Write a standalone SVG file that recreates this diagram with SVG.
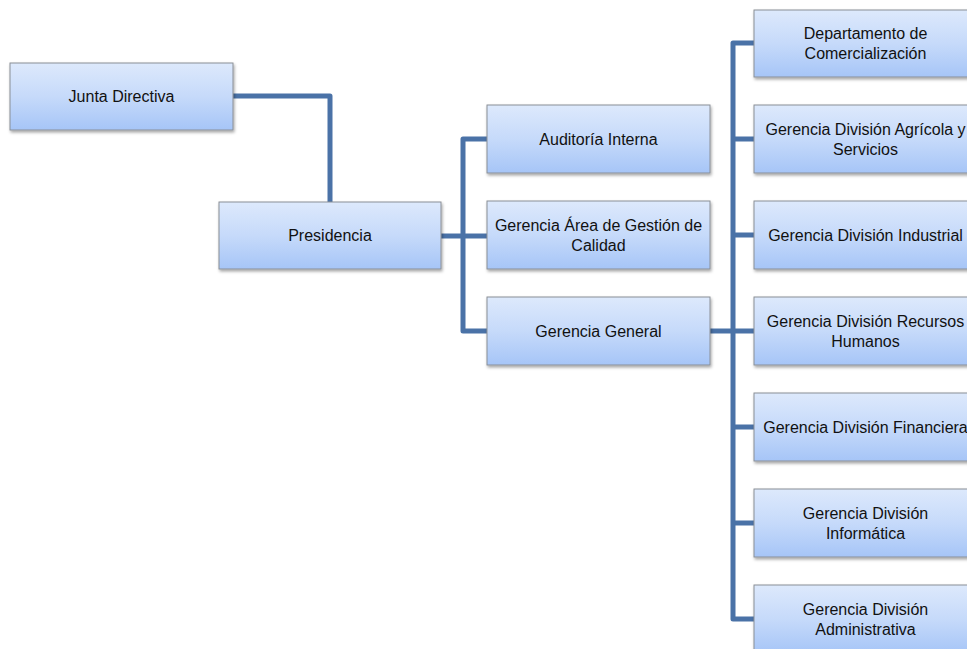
<svg xmlns="http://www.w3.org/2000/svg" width="967" height="649" viewBox="0 0 967 649">
<defs>
<linearGradient id="g" x1="0" y1="0" x2="0" y2="1">
<stop offset="0" stop-color="#dde9fc"/>
<stop offset="0.5" stop-color="#c6dafa"/>
<stop offset="1" stop-color="#a6c5f7"/>
</linearGradient>
<filter id="sh" x="-10%" y="-10%" width="120%" height="130%">
<feDropShadow dx="1" dy="2" stdDeviation="1.5" flood-color="#000" flood-opacity="0.35"/>
</filter>
</defs>
<style>
.box{fill:url(#g);stroke:#8a8f96;stroke-width:1;filter:url(#sh)}
.t{font-family:"Liberation Sans",Arial,sans-serif;font-size:16px;fill:#111;text-anchor:middle}
.c{fill:none;stroke:#4a72a7;stroke-width:5;stroke-linejoin:round}
</style>
<g id="connectors">
<path class="c" d="M233,96 H330 V202"/>
<path class="c" d="M441,236 H463"/>
<path class="c" d="M487,139 H463 V331 H487"/>
<path class="c" d="M463,236 H487"/>
<path class="c" d="M710,331 H733"/>
<path class="c" d="M754,43 H733 V619 H754"/>
<path class="c" d="M733,139 H754 M733,235 H754 M733,331 H754 M733,427 H754 M733,523 H754"/>
</g>
<g id="junta"><rect class="box" x="10" y="63" width="223" height="67"/><text class="t" x="121.5" y="102">Junta Directiva</text></g>
<g id="presidencia"><rect class="box" x="219" y="202" width="222" height="67"/><text class="t" x="330" y="241">Presidencia</text></g>
<g id="auditoria"><rect class="box" x="487" y="105" width="223" height="68"/><text class="t" x="598.5" y="145">Auditoría Interna</text></g>
<g id="calidad"><rect class="box" x="487" y="201" width="223" height="68"/><text class="t" x="598.5" y="231">Gerencia Área de Gestión de</text><text class="t" x="598.5" y="251">Calidad</text></g>
<g id="general"><rect class="box" x="487" y="297" width="223" height="68"/><text class="t" x="598.5" y="337">Gerencia General</text></g>
<g id="comercializacion"><rect class="box" x="754" y="10" width="223" height="67"/><text class="t" x="865.5" y="39">Departamento de</text><text class="t" x="865.5" y="59">Comercialización</text></g>
<g id="agricola"><rect class="box" x="754" y="105" width="223" height="68"/><text class="t" x="865.5" y="135">Gerencia División Agrícola y</text><text class="t" x="865.5" y="155">Servicios</text></g>
<g id="industrial"><rect class="box" x="754" y="201" width="223" height="68"/><text class="t" x="865.5" y="241">Gerencia División Industrial</text></g>
<g id="rrhh"><rect class="box" x="754" y="297" width="223" height="68"/><text class="t" x="865.5" y="327">Gerencia División Recursos</text><text class="t" x="865.5" y="347">Humanos</text></g>
<g id="financiera"><rect class="box" x="754" y="393" width="223" height="68"/><text class="t" x="865.5" y="433">Gerencia División Financiera</text></g>
<g id="informatica"><rect class="box" x="754" y="489" width="223" height="68"/><text class="t" x="865.5" y="519">Gerencia División</text><text class="t" x="865.5" y="539">Informática</text></g>
<g id="administrativa"><rect class="box" x="754" y="585" width="223" height="68"/><text class="t" x="865.5" y="615">Gerencia División</text><text class="t" x="865.5" y="635">Administrativa</text></g>
</svg>
